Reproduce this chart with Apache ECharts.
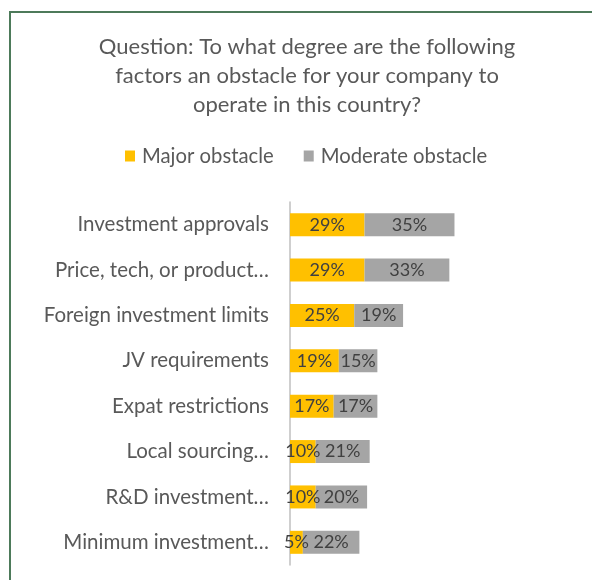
<!DOCTYPE html>
<html><head><meta charset="utf-8">
<script src="https://cdn.jsdelivr.net/npm/echarts@6/dist/echarts.min.js"></script>
<style>html,body{margin:0;padding:0;background:#fff}#c{width:592px;height:580px}</style>
</head><body><div id="c"></div>
<script>
const categories = ["Investment approvals","Price, tech, or product\u2026","Foreign investment limits","JV requirements","Expat restrictions","Local sourcing\u2026","R&D investment\u2026","Minimum investment\u2026"];
const majorValues = [29,29,25,19,17,10,10,5];
const moderateValues = [35,33,19,15,17,21,20,22];
const seriesNames = ["Major obstacle","Moderate obstacle"];
const titleText = "Question: To what degree are the following\nfactors an obstacle for your company to\noperate in this country?";

const FONT = "Lato, 'Open Sans', sans-serif";
const chart = echarts.init(document.getElementById('c'), null, {renderer:'canvas'});
const lbl = {show:true, position:'inside', formatter:'{c}%', color:'#404040', fontSize:18, fontFamily:FONT};
chart.setOption({
  animation:false,
  backgroundColor:'#fff',
  graphic:[{type:'rect', shape:{x:10, y:12, width:600, height:600}, style:{fill:'none', stroke:'#4d7a5a', lineWidth:2}}],
  title:{text:titleText, left:302, top:27, textAlign:'center',
    textStyle:{color:'#595959', fontSize:22, fontWeight:'normal', fontFamily:FONT, lineHeight:29}},
  legend:{top:141, left:120, itemWidth:10, itemHeight:11, itemGap:30, icon:'rect',
    textStyle:{color:'#595959', fontSize:20.3, fontFamily:FONT, padding:[0,0,0,2]},
    data:seriesNames},
  grid:{left:290, top:202, width:257, bottom:15, containLabel:false},
  xAxis:{type:'value', min:0, max:100, show:false},
  yAxis:{type:'category', inverse:true, data:categories,
    axisLine:{show:true, lineStyle:{color:'#bfbfbf', width:1.5}},
    axisTick:{show:false},
    axisLabel:{color:'#595959', fontSize:20.5, fontFamily:FONT, margin:21}},
  series:[
    {name:seriesNames[0], type:'bar', stack:'a', data:majorValues, barWidth:23, itemStyle:{color:'#ffc000'}, label:lbl},
    {name:seriesNames[1], type:'bar', stack:'a', data:moderateValues, barWidth:23, itemStyle:{color:'#a5a5a5'}, label:lbl}
  ]
});
</script></body></html>
